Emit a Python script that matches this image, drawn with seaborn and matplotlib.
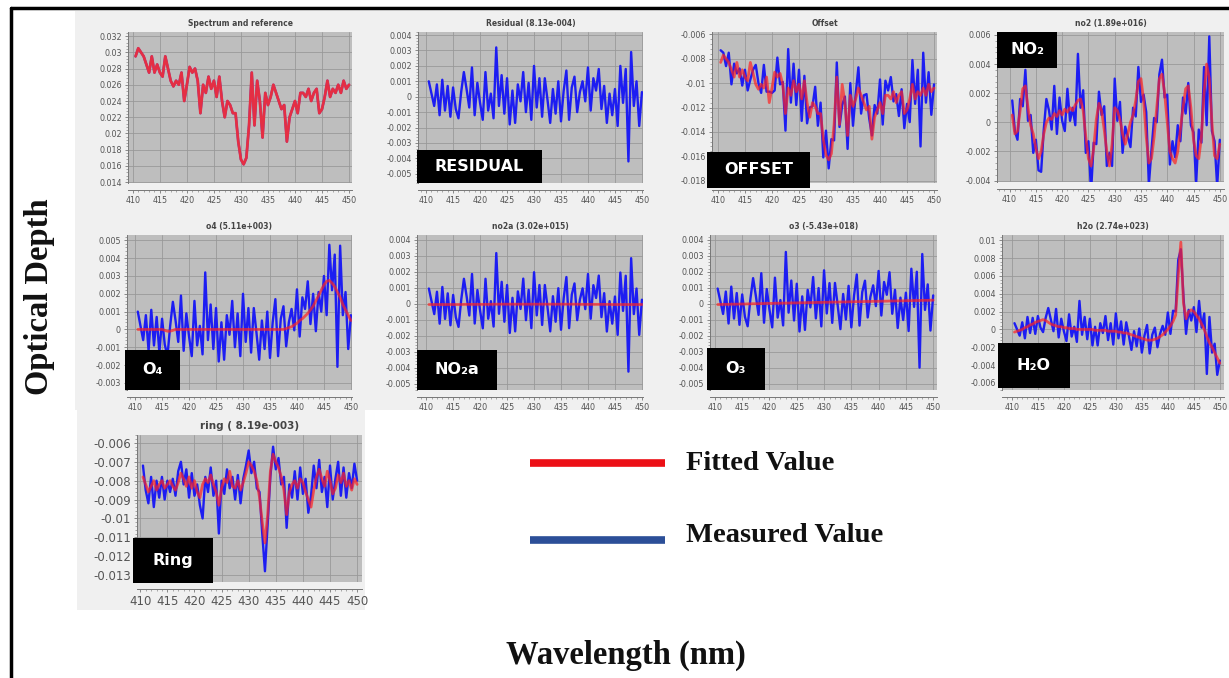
import numpy as np
import pandas as pd
import matplotlib
matplotlib.use("Agg")
import matplotlib.pyplot as plt
import seaborn as sns
from matplotlib.patches import Rectangle
from matplotlib.lines import Line2D
from matplotlib.ticker import MultipleLocator, AutoMinorLocator, FuncFormatter

# ---------------- data (optical depth, units of 1e-3) ----------------
wavelength = np.round(np.arange(410.5, 450.01, 0.5), 1)   # nm

spectrum = [29.5, 30.5, 30.0, 29.5, 28.5, 27.5, 29.5, 27.5, 28.5, 27.5,
            27.0, 29.5, 28.0, 26.5, 25.8, 26.5, 26.0, 27.5, 24.0, 26.0,
            28.2, 27.5, 28.0, 26.5, 22.5, 26.0, 25.0, 27.0, 25.5, 26.5,
            24.5, 27.0, 24.0, 22.0, 24.0, 23.5, 22.5, 22.5, 19.0, 16.8,
            16.2, 17.0, 21.0, 27.5, 21.0, 26.5, 24.0, 19.5, 25.0, 23.5,
            24.5, 26.0, 25.0, 24.0, 23.0, 23.5, 19.0, 22.0, 23.0, 24.0,
            22.5, 25.0, 25.0, 24.5, 25.5, 24.0, 25.0, 25.5, 22.5, 23.0,
            24.5, 26.5, 24.5, 25.5, 25.0, 26.0, 25.0, 26.5, 25.5, 26.0]

residual = [1.0, 0.2, -0.6, 0.8, -1.2, 1.1, -0.9, 0.7, -1.3, 0.6,
            -0.8, -1.4, 0.3, 1.6, 0.5, -0.7, 1.9, -1.2, 0.9, -0.4,
            -1.5, 1.6, -0.9, 0.2, -1.4, 3.2, -0.6, 1.4, -1.1, 1.2,
            -1.8, 0.4, -1.7, 0.8, -0.3, 1.6, -1.0, 0.9, -1.5, 2.0,
            -0.7, 1.2, -1.3, 1.2, -0.2, -1.7, 0.5, -1.1, 1.0, -1.6,
            0.4, 1.7, -1.5, 0.6, 1.3, -1.0, 0.3, 1.0, -0.3, 1.9,
            -0.9, 1.2, 0.4, 1.8, -0.8, 0.7, -1.7, 0.2, -1.2, 0.5,
            -1.9, 2.0, -0.4, 1.8, -4.2, 2.9, -0.6, 1.0, -1.9, 0.3]

offset_fit = [-8.3, -7.7, -8.0, -8.3, -8.9, -9.5, -8.3, -9.5, -8.9, -9.5,
              -9.8, -8.3, -9.2, -10.1, -10.5, -10.1, -10.4, -9.5, -11.6, -10.4,
              -9.1, -9.5, -9.2, -10.1, -12.5, -10.4, -11.0, -9.8, -10.7, -10.1,
              -11.3, -9.8, -11.6, -12.8, -11.6, -11.9, -12.5, -12.5, -14.6, -15.9,
              -16.3, -15.8, -13.4, -9.5, -13.4, -10.1, -11.6, -14.3, -11.0, -11.9,
              -11.3, -10.4, -11.0, -11.6, -12.2, -11.9, -14.6, -12.8, -12.2, -11.6,
              -12.5, -11.0, -11.0, -11.3, -10.7, -11.6, -11.0, -10.7, -12.5, -12.2,
              -11.3, -10.1, -11.3, -10.7, -11.0, -10.4, -11.0, -10.1, -10.7, -10.4]

no2_fit = [0.5, -0.8, -0.6, 0.8, 2.3, 2.5, 1.0, -0.2, -0.8, -1.8,
           -2.5, -2.0, -0.8, 0.0, 0.3, 0.2, 0.6, 0.4, 0.8, 0.5,
           0.9, 0.7, 1.0, 0.8, 1.2, 1.5, 1.6, 0.8, -1.0, -2.5,
           -3.0, -1.8, 0.2, 1.3, 0.8, -0.5, -2.0, -3.0, -1.5, 1.0,
           0.8, 0.2, -0.8, -1.5, -0.8, 0.0, 0.5, 1.5, 2.8, 3.0,
           1.5, -1.0, -2.8, -2.5, -1.0, 1.0, 3.0, 3.3, 2.0, 0.0,
           -2.0, -2.5, -2.8, -2.0, -0.5, 1.0, 2.3, 2.5, 1.0, -1.2,
           -2.3, -2.5, -1.0, 2.0, 4.0, 3.0, 0.0, -2.3, -2.5, -1.5]

o4_fit = [0.0, 0.0, 0.0, 0.0, 0.0, 0.0, 0.0, 0.0, 0.0, 0.0,
          -0.05, -0.1, -0.1, -0.05, 0.0, 0.0, 0.0, 0.0, 0.0, 0.0,
          0.0, 0.0, 0.0, 0.0, 0.0, 0.0, 0.0, 0.0, 0.0, 0.0,
          0.0, 0.0, 0.0, 0.0, 0.0, 0.0, 0.0, 0.0, 0.0, 0.0,
          0.0, 0.0, 0.0, 0.0, 0.0, 0.0, 0.0, 0.0, 0.0, 0.0,
          0.0, 0.0, 0.0, 0.0, 0.0, 0.05, 0.1, 0.15, 0.25, 0.35,
          0.5, 0.6, 0.75, 0.9, 1.1, 1.3, 1.6, 1.9, 2.2, 2.5,
          2.7, 2.75, 2.6, 2.4, 2.1, 1.8, 1.4, 1.1, 0.8, 0.5]

no2a_fit = [-0.05, -0.05, -0.05, -0.05, -0.05, -0.05, -0.05, -0.05, -0.05, -0.05,
            -0.05, -0.05, -0.05, -0.04, -0.04, -0.04, -0.04, -0.04, -0.04, -0.04,
            -0.04, -0.04, -0.04, -0.04, -0.03, -0.03, -0.03, -0.03, -0.03, -0.03,
            -0.03, -0.03, -0.03, -0.03, -0.03, -0.03, -0.03, -0.03, -0.03, -0.03,
            -0.03, -0.03, -0.03, -0.03, -0.03, -0.03, -0.03, -0.03, -0.03, -0.03,
            -0.03, -0.03, -0.03, -0.03, -0.03, -0.03, -0.04, -0.04, -0.04, -0.04,
            -0.04, -0.04, -0.04, -0.04, -0.04, -0.04, -0.04, -0.04, -0.05, -0.05,
            -0.05, -0.05, -0.05, -0.05, -0.05, -0.05, -0.05, -0.05, -0.05, -0.05]

o3_fit = [-0.05, -0.05, -0.04, -0.04, -0.04, -0.03, -0.03, -0.03, -0.02, -0.02,
          -0.02, -0.01, -0.01, 0.0, 0.0, 0.0, 0.01, 0.01, 0.02, 0.02,
          0.02, 0.03, 0.03, 0.03, 0.04, 0.04, 0.04, 0.05, 0.05, 0.05,
          0.06, 0.06, 0.06, 0.07, 0.07, 0.07, 0.08, 0.08, 0.08, 0.09,
          0.09, 0.09, 0.10, 0.10, 0.10, 0.11, 0.11, 0.11, 0.12, 0.12,
          0.12, 0.13, 0.13, 0.13, 0.14, 0.14, 0.14, 0.15, 0.15, 0.15,
          0.16, 0.16, 0.16, 0.17, 0.17, 0.17, 0.18, 0.18, 0.18, 0.19,
          0.19, 0.19, 0.20, 0.20, 0.20, 0.21, 0.21, 0.21, 0.22, 0.22]

h2o_fit = [-0.3, -0.2, -0.1, 0.0, 0.2, 0.3, 0.5, 0.6, 0.8, 0.9,
           1.0, 1.1, 1.0, 0.8, 0.6, 0.5, 0.4, 0.3, 0.3, 0.2,
           0.2, 0.1, 0.1, 0.1, 0.0, 0.0, 0.0, 0.0, 0.0, 0.0,
           0.0, -0.1, -0.1, -0.1, -0.1, -0.1, -0.2, -0.2, -0.2, -0.2,
           -0.3, -0.3, -0.4, -0.4, -0.5, -0.6, -0.7, -0.8, -0.9, -1.0,
           -1.1, -1.2, -1.2, -1.2, -1.1, -1.0, -0.8, -0.6, -0.3, 0.0,
           0.4, 0.9, 1.6, 6.0, 9.8, 3.0, 1.2, 2.0, 2.2, 2.0,
           1.6, 1.2, 0.6, 0.0, -0.8, -1.5, -2.0, -2.6, -3.2, -3.8]

ring_fit = [-7.8, -8.2, -8.6, -8.3, -8.0, -8.5, -8.2, -8.0, -8.4, -8.2,
            -8.0, -8.3, -8.5, -8.1, -7.6, -7.9, -8.3, -7.8, -8.4, -8.0,
            -8.6, -8.9, -8.2, -7.9, -8.1, -7.7, -8.2, -8.6, -9.3, -8.4,
            -7.9, -8.1, -7.5, -8.3, -8.4, -8.0, -8.5, -8.1, -7.6, -7.0,
            -7.2, -7.5, -8.0, -8.9, -10.2, -11.3, -9.8, -7.5, -6.6, -7.0,
            -7.3, -7.8, -8.5, -9.8, -8.6, -8.2, -8.0, -8.4, -7.9, -8.1,
            -8.6, -9.0, -9.4, -8.5, -7.8, -7.4, -7.9, -8.3, -7.5, -8.0,
            -8.7, -8.4, -7.7, -8.1, -7.6, -8.3, -8.0, -8.5, -7.9, -8.2]

ring_measured = [-7.2, -8.5, -9.2, -7.8, -9.4, -8.0, -8.9, -7.8, -9.0, -8.0,
                 -8.6, -7.9, -8.8, -7.5, -7.0, -8.2, -7.4, -8.9, -7.6, -8.8,
                 -8.2, -9.3, -10.0, -7.8, -8.6, -7.3, -8.8, -8.0, -10.8, -8.0,
                 -8.7, -7.4, -8.4, -7.8, -9.0, -7.7, -9.2, -7.9, -7.2, -6.4,
                 -7.6, -7.0, -8.4, -8.6, -10.8, -12.8, -10.3, -7.8, -6.2, -7.4,
                 -6.8, -8.2, -7.8, -10.5, -8.2, -8.9, -7.5, -9.0, -7.3, -8.7,
                 -7.9, -9.7, -8.8, -7.2, -8.4, -6.9, -8.6, -7.8, -9.4, -7.2,
                 -9.0, -7.9, -7.0, -8.8, -7.3, -8.9, -7.6, -8.4, -7.1, -8.0]

for arr in (spectrum, residual, offset_fit, no2_fit, o4_fit, no2a_fit,
            o3_fit, h2o_fit, ring_fit, ring_measured):
    assert len(arr) == len(wavelength), len(arr)

titles = ["Spectrum and reference", "Residual (8.13e-004)", "Offset",
          "no2 (1.89e+016)", "o4 (5.11e+003)", "no2a (3.02e+015)",
          "o3 (-5.43e+018)", "h2o (2.74e+023)", "ring ( 8.19e-003)"]
tags = [None, "RESIDUAL", "OFFSET", "NO\u2082", "O\u2084", "NO\u2082a", "O\u2083", "H\u2082O", "Ring"]


def scaled(a):
    return np.asarray(a) * 1e-3


# In a DOAS fit plot, "measured" = scaled reference (fitted) + residual
res = np.asarray(residual)
series = [
    (scaled(spectrum), scaled(spectrum)),
    (scaled(residual), None),
    (scaled(np.asarray(offset_fit) + res), scaled(offset_fit)),
    (scaled(np.asarray(no2_fit) + res), scaled(no2_fit)),
    (scaled(np.asarray(o4_fit) + res), scaled(o4_fit)),
    (scaled(np.asarray(no2a_fit) + res), scaled(no2a_fit)),
    (scaled(np.asarray(o3_fit) + res), scaled(o3_fit)),
    (scaled(np.asarray(h2o_fit) + res), scaled(h2o_fit)),
    (scaled(ring_measured), scaled(ring_fit)),
]

# ---------------- layout (pixel geometry) ----------------
W, H = 1229, 678
boxes = [(128, 352, 32, 183), (418, 643, 32, 183), (712, 937, 32, 183), (997, 1224, 32, 182),
         (127, 352, 235, 390), (417, 643, 235, 390), (710, 937, 235, 390), (1002, 1224, 235, 390),
         (137, 362, 435, 582)]
xlims = [(409.1, 450.55), (408.5, 450.2), (408.9, 450.55), (407.6, 450.8),
         (408.5, 450.2), (408.3, 450.2), (409.1, 450.7), (408.1, 450.8), (409.4, 450.9)]
ylims = [(0.0139, 0.0325), (-0.0056, 0.0042), (-0.0182, -0.0058), (-0.0041, 0.0062),
         (-0.0034, 0.0053), (-0.0054, 0.0043), (-0.0054, 0.0043), (-0.0068, 0.0106),
         (-0.01337, -0.00558)]
ysteps = [0.002, 0.001, 0.002, 0.002, 0.001, 0.001, 0.001, 0.002, 0.001]
tag_boxes = [None, (417, 542, 150, 183), (707, 810, 152, 188), (997, 1057, 32, 68),
             (125, 180, 350, 390), (417, 497, 350, 390), (707, 765, 348, 390),
             (998, 1070, 343, 388), (133, 213, 538, 583)]

sns.set_style("ticks")
plt.rcParams["font.family"] = ["DejaVu Sans"]

fig = plt.figure(figsize=(W / 100, H / 100), dpi=100)
fig.patch.set_facecolor("white")


def frac_rect(x0, x1, y0, y1):
    return [x0 / W, 1 - y1 / H, (x1 - x0) / W, (y1 - y0) / H]


# light screenshot backgrounds
for (x0, x1, y0, y1) in [(75, 1229, 11, 410), (77, 365, 410, 610)]:
    fig.add_artist(Rectangle((x0 / W, 1 - y1 / H), (x1 - x0) / W, (y1 - y0) / H,
                             transform=fig.transFigure, fc="#f0f0f0", ec="none", zorder=-5))


def fmt(v, pos):
    s = f"{v:.3f}".rstrip("0").rstrip(".")
    if s in ("-0", "", "0"):
        return "0"
    return s


BLUE = "#1d1df2"
RED = "#ff2222"

for i in range(9):
    ax = fig.add_axes(frac_rect(*boxes[i]))
    ax.set_facecolor("#bebebe")
    meas, fit = series[i]
    sns.lineplot(x=wavelength, y=meas, ax=ax, color=BLUE, lw=1.7,
                 estimator=None, sort=False, legend=False, zorder=3)
    if fit is not None:
        if i == 0:
            sns.lineplot(x=wavelength, y=fit, ax=ax, color="#f0303a", lw=2.0, alpha=0.95,
                         estimator=None, sort=False, legend=False, zorder=4)
        else:
            sns.lineplot(x=wavelength, y=fit, ax=ax, color=RED, lw=2.0, alpha=0.7,
                         estimator=None, sort=False, legend=False, zorder=4)
    ax.set_xlim(*xlims[i])
    ax.set_ylim(*ylims[i])
    ax.xaxis.set_major_locator(MultipleLocator(5))
    ax.xaxis.set_minor_locator(MultipleLocator(1))
    ax.yaxis.set_major_locator(MultipleLocator(ysteps[i]))
    ax.yaxis.set_minor_locator(AutoMinorLocator(5))
    ax.yaxis.set_major_formatter(FuncFormatter(fmt))
    ax.grid(True, which="major", color="#999999", lw=0.6)
    ax.set_axisbelow(True)
    ax.set_xlabel("")
    ax.set_ylabel("")
    for s in ("top", "right"):
        ax.spines[s].set_visible(False)
    for s in ("left", "bottom"):
        ax.spines[s].set_color("#777777")
        ax.spines[s].set_linewidth(0.7)
    ax.spines["bottom"].set_position(("outward", 5))
    big = (i == 8)
    ax.tick_params(which="major", length=2.5, width=0.6, color="#777777",
                   labelsize=8.5 if big else 5.8, labelcolor="#555555", pad=2)
    ax.tick_params(which="minor", length=1.3, width=0.5, color="#888888")
    ax.set_title(titles[i], fontsize=7.5 if big else 5.5, color="#444444",
                 fontweight="bold", pad=4)
    tb = tag_boxes[i]
    if tb is not None:
        x0, x1, y0, y1 = tb
        fig.add_artist(Rectangle((x0 / W, 1 - y1 / H), (x1 - x0) / W, (y1 - y0) / H,
                                 transform=fig.transFigure, fc="black", ec="none", zorder=10))
        fig.text((x0 + x1) / 2 / W, 1 - (y0 + y1) / 2 / H, tags[i], color="white",
                 fontsize=11.5, fontweight="bold", ha="center", va="center", zorder=11)

# frame lines
fig.add_artist(Line2D([11 / W, 11 / W], [0, 1 - 8 / H], transform=fig.transFigure,
                      color="black", lw=2.5, zorder=20))
fig.add_artist(Line2D([11 / W, 1], [1 - 8 / H, 1 - 8 / H], transform=fig.transFigure,
                      color="black", lw=2.5, zorder=20))

serif = ["Liberation Serif", "DejaVu Serif"]
fig.text(40 / W, 1 - 297 / H, "Optical Depth", rotation=90, ha="center", va="center",
         family=serif, fontweight="bold", fontsize=23.5, color="#111111")
fig.text(626 / W, 1 - 655 / H, "Wavelength (nm)", ha="center", va="center",
         family=serif, fontweight="bold", fontsize=23.5, color="#111111")

# legend
fig.add_artist(Line2D([530 / W, 665 / W], [1 - 463 / H] * 2, transform=fig.transFigure,
                      color="#ec1016", lw=5.5, solid_capstyle="butt"))
fig.add_artist(Line2D([530 / W, 665 / W], [1 - 540 / H] * 2, transform=fig.transFigure,
                      color="#2c4f98", lw=5.5, solid_capstyle="butt"))
fig.text(686 / W, 1 - 463 / H, "Fitted Value", ha="left", va="center",
         family=serif, fontweight="bold", fontsize=20.5, color="#111111")
fig.text(686 / W, 1 - 536 / H, "Measured Value", ha="left", va="center",
         family=serif, fontweight="bold", fontsize=20.5, color="#111111")

fig.savefig("out.png", dpi=100)
